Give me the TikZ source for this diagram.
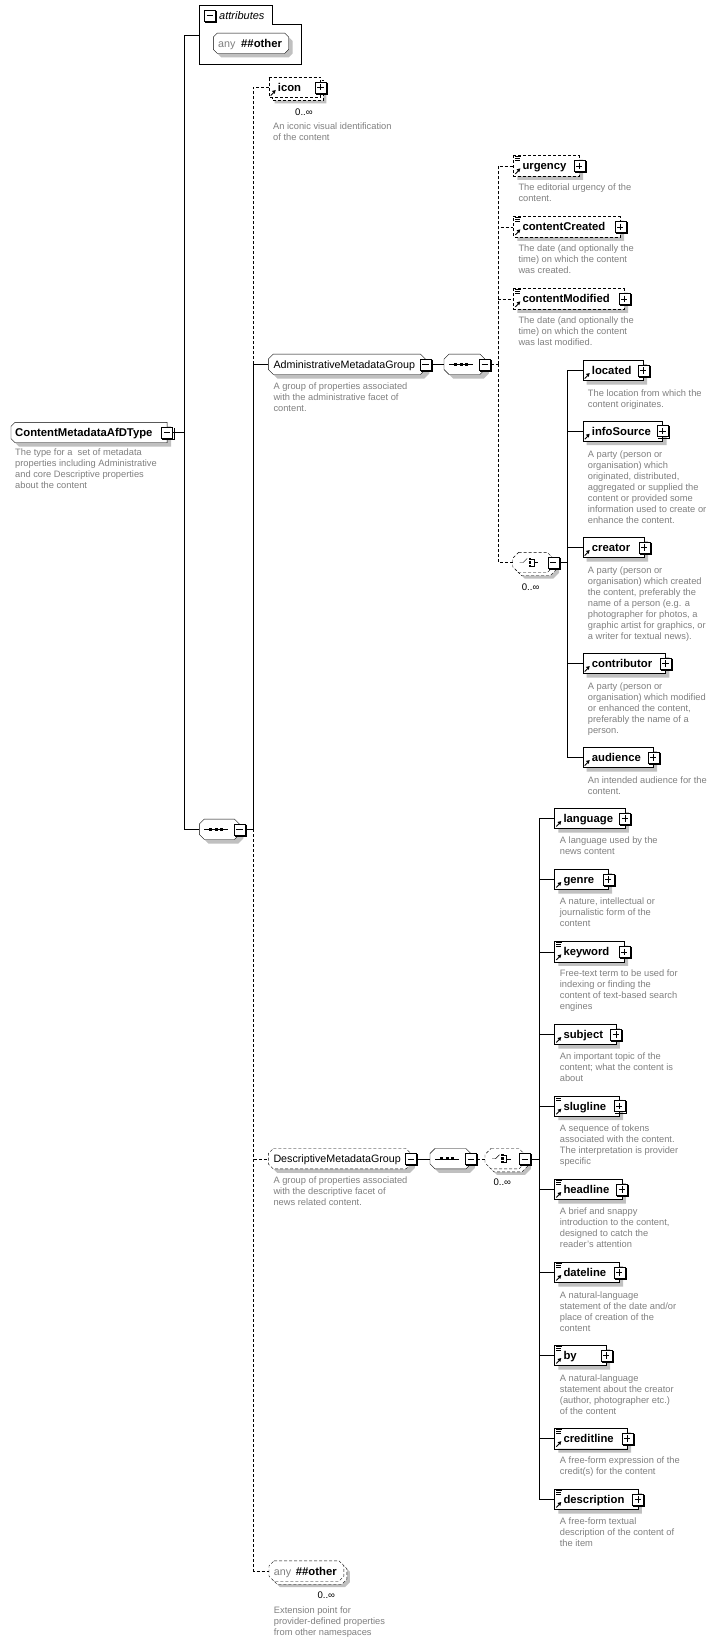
\documentclass[tikz,border=0pt]{standalone}
\usepackage{fontspec}
\setmainfont{Liberation Sans}
\usetikzlibrary{calc}
\pgfdeclarelayer{bgl}
\pgfsetlayers{bgl,main}
\definecolor{gtext}{RGB}{128,128,128}
\definecolor{shadowc}{RGB}{192,192,192}
% octagon / rectangle outline from node anchors
\newcommand\octp[3]{\path[#1] ([xshift=#3]#2.north west) -- ([xshift=-#3]#2.north east) -- ([yshift=-#3]#2.north east) -- ([yshift=#3]#2.south east) -- ([xshift=-#3]#2.south east) -- ([xshift=#3]#2.south west) -- ([yshift=#3]#2.south west) -- ([yshift=-#3]#2.north west) -- cycle;}
% left-chamfered outline
\newcommand\lchp[3]{\path[#1] ([xshift=#3]#2.north west) -- (#2.north east) -- (#2.south east) -- ([xshift=#3]#2.south west) -- ([yshift=#3]#2.south west) -- ([yshift=-#3]#2.north west) -- cycle;}
\newcommand\drawshp[4]{%
 \begin{pgfonlayer}{bgl}
 \ifnum#4=1
  \octp{fill=shadowc,transform canvas={shift={(6pt,-6pt)}}}{#2}{#3}
  \octp{draw,fill=white,#1,transform canvas={shift={(3pt,-3pt)}}}{#2}{#3}
 \else
  \octp{fill=shadowc,transform canvas={shift={(4pt,-4pt)}}}{#2}{#3}
 \fi
 \octp{draw,fill=white,#1}{#2}{#3}
 \end{pgfonlayer}}
\newcommand\pmbx[3]{%
 \node[pmbox] (#1) at (#2) {};
 \draw ([shift={(1pt,-1pt)}]#1.north east) |- ([shift={(1pt,-1pt)}]#1.south west);
 \draw ([xshift=2.5pt]#1.west) -- ([xshift=-2.5pt]#1.east);
 \ifnum#3=1 \draw ([yshift=-2.5pt]#1.north) -- ([yshift=2.5pt]#1.south);\fi}
\newcommand\refarr[1]{%
 \draw[line width=0.9pt] ([shift={(2pt,2pt)}]#1.south west) -- ([shift={(5pt,5pt)}]#1.south west);
 \fill ([shift={(7pt,7.5pt)}]#1.south west) -- ([shift={(3.2pt,6.5pt)}]#1.south west) -- ([shift={(6pt,3.7pt)}]#1.south west) -- cycle;}
\newcommand\simpic[1]{%
 \draw[line width=0.9pt] ([shift={(2pt,-1pt)}]#1.north west) -- ++(6pt,0pt);
 \draw[line width=0.9pt] ([shift={(2pt,-3pt)}]#1.north west) -- ++(5pt,0pt);
 \draw[line width=0.9pt] ([shift={(2pt,-5pt)}]#1.north west) -- ++(5pt,0pt);}
\newcommand\elembox[7]{%
 \node[ename] (#2) at (#3,#4) {\makebox[#5pt][l]{\hspace*{9pt}#6}};
 \drawshp{#1}{#2}{0pt}{#7}
 \pmbx{#2-p}{#2.east}{1}
 \refarr{#2}}
\newcommand\dsc[4]{\node[desc] (#1) at (#2,{#3-8.2}) {\rule{0pt}{8.2pt}#4};}
\newcommand\seqic[1]{%
 \draw ([xshift=5pt]#1.west) -- ([xshift=29pt]#1.west);
 \fill ([shift={(10pt,-1.5pt)}]#1.west) rectangle ++(3pt,3pt);
 \fill ([shift={(15.5pt,-1.5pt)}]#1.west) rectangle ++(3pt,3pt);
 \fill ([shift={(21pt,-1.5pt)}]#1.west) rectangle ++(3pt,3pt);}
\newcommand\choic[1]{%
 \draw ([xshift=7pt]#1.west) -- ([xshift=10.5pt]#1.west) -- ([shift={(14.5pt,4pt)}]#1.west);
 \fill ([shift={(16pt,2.25pt)}]#1.west) rectangle ++(2.5pt,2.5pt);
 \fill ([shift={(16pt,-1.25pt)}]#1.west) rectangle ++(2.5pt,2.5pt);
 \fill ([shift={(16pt,-4.75pt)}]#1.west) rectangle ++(2.5pt,2.5pt);
 \draw ([shift={(18.5pt,3.5pt)}]#1.west) -- ([shift={(21.5pt,3.5pt)}]#1.west) -- ([shift={(21.5pt,-3.5pt)}]#1.west) -- ([shift={(18.5pt,-3.5pt)}]#1.west);
 \draw ([xshift=21.5pt]#1.west) -- ([xshift=25.5pt]#1.west);}
\begin{document}
\begin{tikzpicture}[x=1pt,y=-1pt,line width=1pt,
 dsh/.style={dash pattern=on 3pt off 2pt},
 ename/.style={rectangle, inner sep=0pt, minimum height=20pt, anchor=west, text height=8pt, text depth=0pt, font=\fontsize{11.3}{13}\selectfont\bfseries},
 gname/.style={rectangle, inner sep=0pt, minimum height=20pt, anchor=west, text height=8pt, text depth=0pt, font=\fontsize{10.7}{13}\selectfont},
 blank/.style={rectangle, inner sep=0pt, minimum height=20pt, anchor=west},
 desc/.style={anchor=north west, inner sep=0pt, align=left, text=gtext, font=\fontsize{9.3}{11}\selectfont},
 mult/.style={anchor=base west, inner sep=0pt, font=\fontsize{9.6}{11}\selectfont},
 pmbox/.style={rectangle, draw, fill=white, minimum size=11pt, inner sep=0pt}]
\begin{pgfonlayer}{bgl}\fill[white] (0,0) rectangle (717,1643);\end{pgfonlayer}
\useasboundingbox (0,0) rectangle (717,1643);

% ---------- attributes ----------
\node[blank, minimum width=101.4pt, minimum height=59pt] (attr) at (199.3,34.8) {};
\draw (199.3,5.3) -- (272,5.3) -- (272,24.3) -- (300.7,24.3) -- (300.7,64.3) -- (199.3,64.3) -- cycle;
\pmbx{attr-m}{209.8,15.3}{0}
\node[anchor=base west, inner sep=0pt, font=\fontsize{11}{13}\selectfont\itshape] (attr-t) at (219,19.3) {attributes};
\node[gname] (anya) at (213.3,43.3) {\makebox[75pt][l]{\hspace*{4.7pt}\makebox[23pt][l]{\color{gtext}any}\fontsize{11.3}{13}\selectfont\bfseries\#\#other}};
\drawshp{}{anya}{4pt}{0}

% ---------- root ----------
\node[ename] (root) at (11,432.5) {\makebox[155.7pt][l]{\hspace*{4pt}ContentMetadataAfDType}};
\begin{pgfonlayer}{bgl}
\lchp{fill=shadowc,transform canvas={shift={(4pt,-4pt)}}}{root}{4pt}
\lchp{draw,fill=white}{root}{4pt}
\end{pgfonlayer}
\pmbx{root-m}{root.east}{0}
\dsc{d-root}{15}{455.7}{The type for a\ \ set of metadata\\properties including Administrative\\and core Descriptive properties\\about the content}

% ---------- top sequence ----------
\node[blank, minimum width=39.7pt] (seq1) at (199.3,829.3) {};
\drawshp{}{seq1}{5pt}{0}
\seqic{seq1}
\pmbx{seq1-m}{seq1.east}{0}

% icon
\elembox{dsh}{icon}{268.7}{87.3}{51.3}{icon}{1}
\node[mult] (m-icon) at (295,115.2) {0..∞};
\dsc{d-icon}{273}{129.7}{An iconic visual identification\\of the content}

% Administrative group
\node[gname] (adm) at (268.3,364.3) {\makebox[156.7pt][l]{\hspace*{5pt}AdministrativeMetadataGroup}};
\drawshp{}{adm}{5pt}{0}
\pmbx{adm-m}{adm.east}{0}
\dsc{d-adm}{273.3}{389.7}{A group of properties associated\\with the administrative facet of\\content.}

\node[blank, minimum width=40.5pt] (seq2) at (444,364.3) {};
\drawshp{}{seq2}{5pt}{0}
\seqic{seq2}
\pmbx{seq2-m}{seq2.east}{0}

\elembox{dsh}{urg}{513.3}{165.7}{65.5}{urgency}{0}\simpic{urg}
\dsc{d-urg}{518.3}{190.7}{The editorial urgency of the\\content.}
\elembox{dsh}{ccr}{513.3}{226.7}{106.5}{contentCreated}{0}\simpic{ccr}
\dsc{d-ccr}{518.3}{251.7}{The date (and optionally the\\time) on which the content\\was created.}
\elembox{dsh}{cmo}{513.3}{298.7}{110.5}{contentModified}{0}\simpic{cmo}
\dsc{d-cmo}{518.3}{323.7}{The date (and optionally the\\time) on which the content\\was last modified.}

\node[blank, minimum width=40.1pt] (ch1) at (512.7,562.5) {};
\drawshp{dsh}{ch1}{6pt}{1}
\choic{ch1}
\pmbx{ch1-m}{ch1.east}{0}
\node[mult] (m-ch1) at (521.7,590.8) {0..∞};

\elembox{}{loc}{582.7}{370.3}{60.1}{located}{0}
\dsc{d-loc}{587.7}{396.3}{The location from which the\\content originates.}
\elembox{}{inf}{582.7}{431}{79.5}{infoSource}{0}
\dsc{d-inf}{587.7}{457}{A party (person or\\organisation) which\\originated, distributed,\\aggregated or supplied the\\content or provided some\\information used to create or\\enhance the content.}
\elembox{}{cre}{582.7}{547.3}{61.1}{creator}{0}
\dsc{d-cre}{587.7}{573}{A party (person or\\organisation) which created\\the content, preferably the\\name of a person (e.g. a\\photographer for photos, a\\graphic artist for graphics, or\\a writer for textual news).}
\elembox{}{con}{582.7}{663.3}{82.3}{contributor}{0}
\dsc{d-con}{587.7}{689}{A party (person or\\organisation) which modified\\or enhanced the content,\\preferably the name of a\\person.}
\elembox{}{aud}{582.7}{757.3}{70.1}{audience}{0}
\dsc{d-aud}{587.7}{783}{An intended audience for the\\content.}

% Descriptive group
\node[gname] (dmg) at (268.3,1158.7) {\makebox[142.2pt][l]{\hspace*{5pt}DescriptiveMetadataGroup}};
\drawshp{dsh}{dmg}{5pt}{0}
\pmbx{dmg-m}{dmg.east}{0}
\dsc{d-dmg}{273.3}{1183}{A group of properties associated\\with the descriptive facet of\\news related content.}

\node[blank, minimum width=40.5pt] (seq3) at (430,1158.7) {};
\drawshp{}{seq3}{5pt}{0}
\seqic{seq3}
\pmbx{seq3-m}{seq3.east}{0}

\node[blank, minimum width=39.5pt] (ch2) at (485,1158.7) {};
\drawshp{dsh}{ch2}{6pt}{1}
\choic{ch2}
\pmbx{ch2-m}{ch2.east}{0}
\node[mult] (m-ch2) at (493.3,1185.8) {0..∞};

\elembox{}{lang}{554.3}{818.3}{70.2}{language}{0}
\dsc{d-lang}{559.7}{843.7}{A language used by the\\news content}
\elembox{}{gen}{554.3}{879.3}{53.5}{genre}{0}
\dsc{d-gen}{559.7}{904.7}{A nature, intellectual or\\journalistic form of the\\content}
\elembox{}{key}{554.3}{951.7}{69.5}{keyword}{0}\simpic{key}
\dsc{d-key}{559.7}{976.7}{Free-text term to be used for\\indexing or finding the\\content of text-based search\\engines}
\elembox{}{sub}{554.3}{1034.3}{61.2}{subject}{0}
\dsc{d-sub}{559.7}{1059.7}{An important topic of the\\content; what the content is\\about}
\elembox{}{slug}{554.3}{1106}{64.5}{slugline}{0}\simpic{slug}
\dsc{d-slug}{559.7}{1131.7}{A sequence of tokens\\associated with the content.\\The interpretation is provider\\specific}
\elembox{}{head}{554.3}{1189.3}{67.2}{headline}{0}\simpic{head}
\dsc{d-head}{559.7}{1214.7}{A brief and snappy\\introduction to the content,\\designed to catch the\\reader's attention}
\elembox{}{date}{554.3}{1272.3}{64.5}{dateline}{0}\simpic{date}
\dsc{d-date}{559.7}{1298}{A natural-language\\statement of the date and/or\\place of creation of the\\content}
\elembox{}{by}{554.3}{1355.3}{51.5}{by}{0}\simpic{by}
\dsc{d-by}{559.7}{1381}{A natural-language\\statement about the creator\\(author, photographer etc.)\\of the content}
\elembox{}{cred}{554.3}{1438.5}{72.5}{creditline}{0}\simpic{cred}
\dsc{d-cred}{559.7}{1463.7}{A free-form expression of the\\credit(s) for the content}
\elembox{}{descr}{554.3}{1499.3}{83.2}{description}{0}\simpic{descr}
\dsc{d-descr}{559.7}{1524.7}{A free-form textual\\description of the content of\\the item}

% bottom any
\node[gname] (anyb) at (269,1571) {\makebox[74.5pt][l]{\hspace*{4.7pt}\makebox[22pt][l]{\color{gtext}any}\fontsize{11.3}{13}\selectfont\bfseries\#\#other}};
\drawshp{dsh}{anyb}{5pt}{1}
\node[mult] (m-anyb) at (317.3,1598.5) {0..∞};
\dsc{d-anyb}{273.7}{1613.7}{Extension point for\\provider-defined properties\\from other namespaces}

% ---------- connectors ----------
\coordinate (jT) at (184.3,432.5);
\draw (root-m.east) -- (jT);
\draw (jT) |- (attr.west);
\draw (jT) |- (seq1.west);

\coordinate (jS) at (253.3,829.3);
\draw (seq1-m.east) -- (jS);
\draw[dsh] (jS) |- (icon.west);
\draw[dsh] (jS) |- (dmg.west);
\draw[dsh] (jS) |- (anyb.west);
\draw (jS) |- (adm.west);

\draw (adm-m.east) -- (seq2.west);
\coordinate (jA) at (498.3,364.3);
\draw[dsh] (seq2-m.east) -- (jA);
\draw[dsh] (jA) |- (urg.west);
\draw[dsh] (jA) |- (ccr.west);
\draw[dsh] (jA) |- (cmo.west);
\draw[dsh] (jA) |- (ch1.west);

\coordinate (jC) at (567.3,562.5);
\draw (ch1-m.east) -- (jC);
\foreach \n in {loc,inf,cre,con,aud} {\draw (jC) |- (\n.west);}

\draw (dmg-m.east) -- (seq3.west);
\draw[dsh] (seq3-m.east) -- (ch2.west);
\coordinate (jD) at (539.3,1158.7);
\draw (ch2-m.east) -- (jD);
\foreach \n in {lang,gen,key,sub,slug,head,date,by,cred,descr} {\draw (jD) |- (\n.west);}
\end{tikzpicture}
\end{document}
